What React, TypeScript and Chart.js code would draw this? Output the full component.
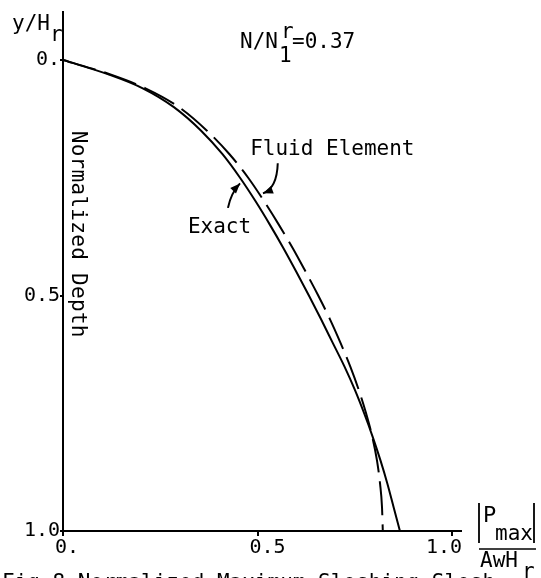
import React, { useEffect, useRef } from "react";
import { Chart, registerables } from "chart.js";

Chart.register(...registerables);

// ---- data ----
const depth = [0, 0.03, 0.06, 0.1, 0.15, 0.2, 0.25, 0.3, 0.35, 0.4, 0.45, 0.5, 0.55, 0.6, 0.65, 0.7, 0.75, 0.8, 0.85, 0.9, 0.95, 1.0];
const exactPressure = [0, 0.115, 0.205, 0.285, 0.355, 0.41, 0.455, 0.495, 0.532, 0.567, 0.6, 0.632, 0.663, 0.693, 0.723, 0.75, 0.774, 0.796, 0.816, 0.834, 0.85, 0.866];
const fluidElementPressure = [0, 0.12, 0.212, 0.298, 0.37, 0.428, 0.476, 0.517, 0.555, 0.591, 0.624, 0.656, 0.686, 0.713, 0.738, 0.76, 0.779, 0.795, 0.807, 0.815, 0.82, 0.822];
const xTicks = [0, 0.5, 1.0];
const xTickLabels = ["0.", " 0.5", "1.0  "];
const yTicks = [0, 0.5, 1.0];
const yTickLabels = ["0.", "0.5", "1.0"];
const seriesNames = ["Exact", "Fluid Element"];
const ratioValue = "0.37";
const captionText = "Fig.8 Normalized Maximum Sloshing Slosh";

const FONT = "'DejaVu Sans Mono', 'Liberation Mono', monospace";

function drawArrow(ctx: CanvasRenderingContext2D, x0: number, y0: number, cx: number, cy: number, x1: number, y1: number) {
  ctx.beginPath();
  ctx.moveTo(x0, y0);
  ctx.quadraticCurveTo(cx, cy, x1, y1);
  ctx.lineWidth = 2;
  ctx.stroke();
  const ang = Math.atan2(y1 - cy, x1 - cx);
  const L = 10, W = 4;
  ctx.beginPath();
  ctx.moveTo(x1, y1);
  ctx.lineTo(x1 - L * Math.cos(ang) + W * Math.sin(ang), y1 - L * Math.sin(ang) - W * Math.cos(ang));
  ctx.lineTo(x1 - L * Math.cos(ang) - W * Math.sin(ang), y1 - L * Math.sin(ang) + W * Math.cos(ang));
  ctx.closePath();
  ctx.fill();
}

const annotPlugin = {
  id: "annot",
  afterDraw(chart: any) {
    const ctx: CanvasRenderingContext2D = chart.ctx;
    const xs = chart.scales.x;
    const ys = chart.scales.y;
    const px = (v: number) => xs.getPixelForValue(v);
    const py = (v: number) => ys.getPixelForValue(v);
    const { right: R, bottom: B, left: Lf, top: T } = chart.chartArea;
    ctx.save();
    ctx.fillStyle = "#000";
    ctx.strokeStyle = "#000";
    ctx.textAlign = "left";
    ctx.textBaseline = "alphabetic";
    ctx.font = `21px ${FONT}`;

    // y axis label y/H_r
    ctx.fillText("y/H", Lf - 51, T + 18);
    ctx.fillText("r", Lf - 13, T + 29);

    // N/N1^r = 0.37
    const ax = px(0.455), ay = py(-0.025);
    ctx.fillText("N/N", ax, ay);
    ctx.fillText("r", ax + 41, ay - 10);
    ctx.fillText("1", ax + 39, ay + 14);
    ctx.fillText("=" + ratioValue, ax + 52, ay);

    // series labels
    ctx.fillText(seriesNames[0], px(0.321), py(0.367));
    ctx.fillText(seriesNames[1], px(0.481), py(0.202));

    // arrows
    drawArrow(ctx, px(0.424), py(0.314), px(0.432), py(0.282), px(0.455), py(0.262));
    drawArrow(ctx, px(0.552), py(0.219), px(0.55), py(0.272), px(0.514), py(0.283));

    // Normalized Depth vertical
    ctx.save();
    (ctx as any).letterSpacing = "0.3px";
    ctx.translate(Lf + 9, py(0.15));
    ctx.rotate(Math.PI / 2);
    ctx.fillText("Normalized Depth", 0, 0);
    ctx.restore();

    // right-hand axis title |P_max| / AwH_r
    ctx.lineWidth = 1.8;
    ctx.beginPath();
    ctx.moveTo(R + 18, B - 28); ctx.lineTo(R + 18, B + 12);
    ctx.moveTo(R + 73, B - 28); ctx.lineTo(R + 73, B + 12);
    ctx.stroke();
    ctx.lineWidth = 1.5;
    ctx.beginPath();
    ctx.moveTo(R + 18, B + 18); ctx.lineTo(R + 75, B + 18);
    ctx.stroke();
    ctx.font = `22px ${FONT}`;
    ctx.fillText("P", R + 22, B - 9);
    ctx.font = `21px ${FONT}`;
    ctx.fillText("max", R + 34, B + 9);
    ctx.fillText("AwH", R + 19, B + 36);
    ctx.fillText("r", R + 61, B + 47);

    // caption (cut off at the bottom)
    ctx.fillText(captionText, 2, B + 58);
    ctx.restore();
  },
};

export default function App() {
  const ref = useRef<HTMLCanvasElement>(null);
  useEffect(() => {
    const canvas = ref.current!;
    const tickFont = { family: FONT, size: 20 };
    const chart = new Chart(canvas, {
      type: "scatter",
      data: {
        datasets: [
          {
            label: seriesNames[0],
            data: depth.map((d, i) => ({ x: exactPressure[i], y: d })),
            showLine: true,
            borderColor: "#000",
            backgroundColor: "#000",
            borderWidth: 2,
            pointRadius: 0,
            cubicInterpolationMode: "monotone",
            fill: false,
          },
          {
            label: seriesNames[1],
            data: depth.map((d, i) => ({ x: fluidElementPressure[i], y: d })),
            showLine: true,
            borderColor: "#000",
            backgroundColor: "#000",
            borderWidth: 2,
            borderDash: [34, 9],
            pointRadius: 0,
            cubicInterpolationMode: "monotone",
            fill: false,
          },
        ],
      },
      options: {
        animation: false,
        responsive: false,
        maintainAspectRatio: false,
        devicePixelRatio: 1,
        layout: { padding: { left: 0, top: 12, right: 80, bottom: 0 } },
        plugins: { legend: { display: false }, tooltip: { enabled: false } },
        scales: {
          x: {
            type: "linear",
            min: 0,
            max: 1.023,
            afterBuildTicks: (s: any) => {
              s.ticks = xTicks.map((v) => ({ value: v }));
            },
            afterFit: (s: any) => {
              s.height = 47;
            },
            ticks: {
              callback: (_v: any, i: number) => xTickLabels[i],
              font: tickFont,
              color: "#000",
              padding: 0,
              maxRotation: 0,
              autoSkip: false,
              labelOffset: 4,
            },
            grid: { display: true, drawOnChartArea: false, drawTicks: true, tickLength: 5, color: "#000", lineWidth: 2 },
            border: { display: true, color: "#000", width: 2 },
          },
          y: {
            type: "linear",
            min: -0.102,
            max: 1.0,
            reverse: true,
            afterBuildTicks: (s: any) => {
              s.ticks = yTicks.map((v) => ({ value: v }));
            },
            afterFit: (s: any) => {
              s.width = 63;
            },
            ticks: {
              callback: (_v: any, i: number) => yTickLabels[i],
              font: tickFont,
              color: "#000",
              padding: 0,
              autoSkip: false,
            },
            grid: { display: true, drawOnChartArea: false, drawTicks: true, tickLength: 3, color: "#000", lineWidth: 2 },
            border: { display: true, color: "#000", width: 2 },
          },
        },
      } as any,
      plugins: [annotPlugin],
    });
    return () => chart.destroy();
  }, []);
  return (
    <div style={{ position: "absolute", left: 0, top: 0, width: 541, height: 578, background: "#fff" }}>
      <canvas ref={ref} width={541} height={578} style={{ display: "block", width: 541, height: 578 }} />
    </div>
  );
}
